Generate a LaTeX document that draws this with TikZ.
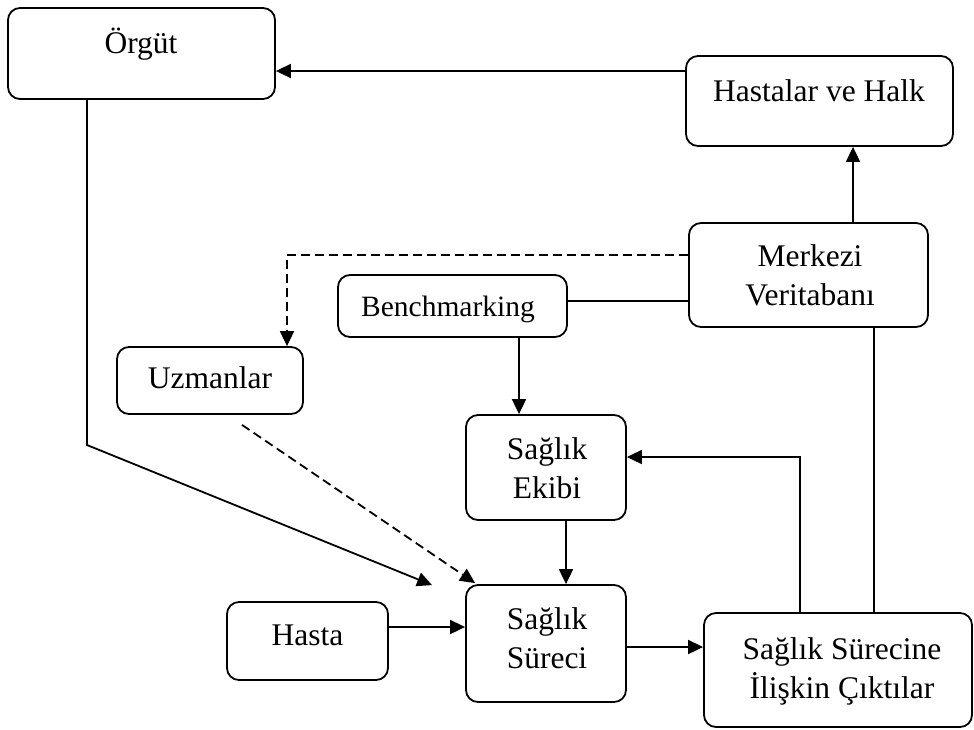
\documentclass[tikz,border=0pt]{standalone}
\usepackage{fontspec}
\setmainfont{Liberation Serif}
\usetikzlibrary{arrows.meta}
\begin{document}
\begin{tikzpicture}[x=1pt,y=-1pt,
  box/.style={draw, line width=1.8pt, rounded corners=12pt, inner sep=0pt},
  lbl/.style={font=\fontsize{31.5}{38.5}\selectfont, align=center, anchor=base, inner sep=0pt},
  conn/.style={line width=1.8pt},
  arr/.style={conn, -{Triangle[length=15pt,width=14pt]}},
  dasharr/.style={arr, dash pattern=on 9pt off 5pt},
]
\useasboundingbox (0,0) rectangle (974,729);

% boxes
\node[box, minimum width=267pt, minimum height=91pt]  (orgut)    at (141.5,53.5) {};
\node[box, minimum width=267pt, minimum height=90pt]  (hastalar) at (819.5,101)  {};
\node[box, minimum width=239pt, minimum height=104pt] (merkezi)  at (808.5,275)  {};
\node[box, minimum width=229pt, minimum height=62pt]  (bench)    at (452.5,306)  {};
\node[box, minimum width=186pt, minimum height=67pt]  (uzmanlar) at (210,380.5)  {};
\node[box, minimum width=160pt, minimum height=105pt] (ekibi)    at (546,467.5)  {};
\node[box, minimum width=160pt, minimum height=117pt] (sureci)   at (546,643.5)  {};
\node[box, minimum width=161pt, minimum height=78pt]  (hasta)    at (307.5,641)  {};
\node[box, minimum width=268pt, minimum height=114pt] (cikti)    at (838,670)    {};

% labels (base anchor = baseline of the last line)
\node[lbl] (orgut-t)    at (141,53)   {Örgüt};
\node[lbl] (hastalar-t) at (819,101)  {Hastalar ve Halk};
\node[lbl] (merkezi-t)  at (810,305)  {Merkezi\\Veritabanı};
\node[lbl, font=\fontsize{29.5}{36}\selectfont] (bench-t) at (448,316) {Benchmarking};
\node[lbl] (uzmanlar-t) at (210,388)  {Uzmanlar};
\node[lbl] (ekibi-t)    at (547,498)  {Sağlık\\Ekibi};
\node[lbl] (sureci-t)   at (547,668)  {Sağlık\\Süreci};
\node[lbl] (hasta-t)    at (307.5,645) {Hasta};
\node[lbl] (cikti-t)    at (842,698)  {Sağlık Sürecine\\İlişkin Çıktılar};

% connectors
\coordinate (a1) at ([yshift=30pt]hastalar.west);
\draw[arr] (a1) -- (a1 -| orgut.east);

\coordinate (a2) at ([xshift=44.5pt]merkezi.north);
\draw[arr] (a2) -- (a2 |- hastalar.south);

\coordinate (a3) at ([yshift=20pt]merkezi.west);
\coordinate (a3e) at ([xshift=77pt]uzmanlar.north);
\draw[dasharr] (a3) -| (a3e);

\coordinate (a4) at ([yshift=5pt]bench.east);
\draw[conn] (a4) -- (a4 -| merkezi.west);

\coordinate (a5) at ([xshift=-27pt]ekibi.north);
\draw[arr] (a5 |- bench.south) -- (a5);

\coordinate (a6) at ([xshift=-54.5pt]orgut.south);
\coordinate (bend1) at (87,445);
\coordinate (tip1) at ([xshift=-33pt,yshift=-1pt]sureci.north west);
\draw[arr] (a6) -- (bend1) -- (tip1);

\coordinate (u0) at ([xshift=32pt,yshift=-10pt]uzmanlar.south);
\coordinate (u1) at ([xshift=10pt,yshift=1pt]sureci.north west);
\draw[dasharr] (u0) -- (u1);

\coordinate (a8) at ([xshift=20pt]ekibi.south);
\draw[arr] (a8) -- (a8 |- sureci.north);

\coordinate (a9) at ([yshift=14pt]hasta.east);
\draw[arr] (a9) -- (a9 -| sureci.west);

\coordinate (a10) at ([yshift=-3.5pt]sureci.east);
\draw[arr] (a10) -- (a10 -| cikti.west);

\coordinate (a11) at ([xshift=-38pt]cikti.north);
\coordinate (a11e) at ([yshift=10.5pt]ekibi.east);
\draw[arr] (a11) |- (a11e);

\coordinate (a12) at ([xshift=65.5pt]merkezi.south);
\draw[conn] (a12) -- (a12 |- cikti.north);
\end{tikzpicture}
\end{document}
